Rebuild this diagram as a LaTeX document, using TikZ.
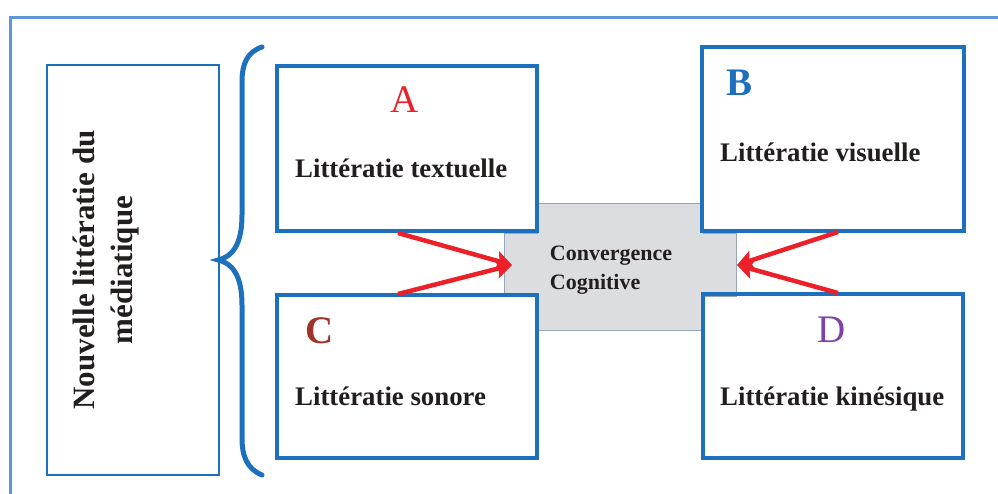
\documentclass[tikz,border=0pt]{standalone}
\usepackage{fontspec}
\setmainfont{Liberation Serif}
\usetikzlibrary{arrows.meta,positioning,calc}
\definecolor{frameclr}{RGB}{95,150,215}
\definecolor{boxbdr}{RGB}{28,112,188}
\definecolor{convfill}{RGB}{220,221,224}
\definecolor{convbdr}{RGB}{150,165,185}
\definecolor{arrowclr}{RGB}{236,32,40}
\definecolor{txtclr}{RGB}{35,30,30}
\definecolor{clrA}{RGB}{236,32,40}
\definecolor{clrB}{RGB}{30,112,190}
\definecolor{clrC}{RGB}{160,52,40}
\definecolor{clrD}{RGB}{125,65,170}
\tikzset{
  litbox/.style={rectangle,draw=boxbdr,line width=4pt,inner sep=0pt},
  ttl/.style={font=\bfseries\fontsize{26.8}{32}\selectfont,text=txtclr,
    inner sep=0pt,anchor=base west},
  ltr/.style={font=\fontsize{39}{44}\selectfont,inner sep=0pt,anchor=base},
  ltrb/.style={ltr,font=\bfseries\fontsize{39}{44}\selectfont},
  arr/.style={-{Stealth[length=16pt,width=19pt,inset=3pt]},line width=4.5pt,
    color=arrowclr},
  brc/.style={line width=5pt,draw=boxbdr,line cap=round},
}

\begin{document}
\begin{tikzpicture}[x=1pt,y=-1pt]
  \useasboundingbox (0,0) rectangle (998,493);
  \clip (0,0) rectangle (998,493);
  \draw[frameclr,line width=3pt] (10,17) rectangle (1010,510);

  % grey cross behind the four boxes
  \draw[convbdr,fill=convfill,line width=1pt]
    (537,203) -- (703,203) -- (703,233) -- (736,233) -- (736,296)
    -- (703,296) -- (703,330) -- (537,330) -- (537,296) -- (504,296)
    -- (504,233) -- (537,233) -- cycle;

  \node[litbox,minimum width=260pt,minimum height=165pt] (boxA) at (407,148.5) {};
  \node[litbox,minimum width=262pt,minimum height=184pt] (boxB) at (833,139) {};
  \node[litbox,minimum width=260pt,minimum height=163pt] (boxC) at (407,376.5) {};
  \node[litbox,minimum width=260pt,minimum height=164pt] (boxD) at (833,376) {};
  \node[litbox,line width=2.5pt,minimum width=172pt,minimum height=410pt]
    (media) at (133,270) {};

  \node[ltr,text=clrA]  (lA) at (405,112)   {A};
  \node[ltrb,text=clrB] (lB) at (739.5,95)  {B};
  \node[ltrb,text=clrC] (lC) at (319.5,343) {C};
  \node[ltr,text=clrD]  (lD) at (831.5,342) {D};

  \node[ttl] (tA) at (295,177) {Littératie textuelle};
  \node[ttl] (tB) at (720,161) {Littératie visuelle};
  \node[ttl] (tC) at (295,405) {Littératie sonore};
  \node[ttl] (tD) at (720,405) {Littératie kinésique};

  \node[font=\bfseries\fontsize{22}{29}\selectfont,text=txtclr,align=left,
    inner sep=0pt] (conv) at (611,270) {Convergence\\Cognitive};
  \node[font=\bfseries\fontsize{31}{38}\selectfont,text=txtclr,align=center,
    rotate=90,inner sep=0pt] (mtxt) at (106,270)
    {Nouvelle littératie du\\médiatique};

  % brace
  \draw[brc] (262,47) .. controls (247,52) and (242,64) .. (242,82)
    -- (242,215) .. controls (242,245) and (232,257) .. (218,260)
    .. controls (232,263) and (242,275) .. (242,305)
    -- (242,438) .. controls (242,456) and (247,469) .. (262,475);

  \coordinate (a1) at (398,233);
  \coordinate (a2) at (398,294);
  \coordinate (cw) at (512,265);
  \coordinate (b1) at (838,232);
  \coordinate (b2) at (838,293);
  \coordinate (ce) at (737,265);
  \foreach \s/\t in {a1/cw,a2/cw,b1/ce,b2/ce}{
    \draw[arr] (\s) -- (\t);
  }
\end{tikzpicture}
\end{document}
